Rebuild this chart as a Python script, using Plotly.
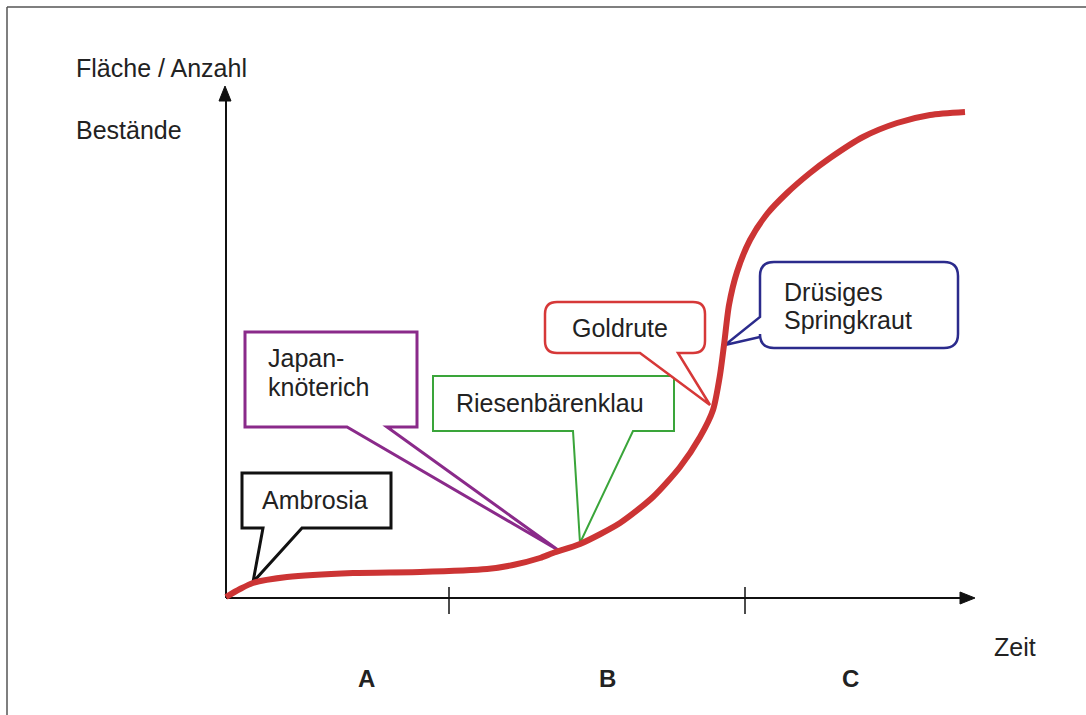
import plotly.graph_objects as go

# ---------------- data ----------------
# time axis position and population size (arbitrary units, origin at the axis crossing)
zeit = [0, 14, 27, 61, 127, 194, 261, 287, 314, 327, 354, 394, 427, 454,
        474, 487, 494, 498, 503, 511, 524, 541, 561, 584, 604, 637, 671, 704, 739]
bestand = [1, 9, 15, 21, 25, 26, 29, 33, 40, 45, 54, 75, 101, 131,
           161, 188, 223, 253, 293, 326, 358, 384, 405, 425, 440, 461, 475, 483, 486]

phase_labels = ["A", "B", "C"]
phase_centers = [140, 381, 624]
phase_bounds = [223, 519]

species = ["Ambrosia", ["Japan-", "knöterich"], "Riesenbärenklau", "Goldrute", ["Drüsiges", "Springkraut"]]

W, H = 1086, 715
OX, OY = 226, 598  # pixel position of the axis origin


def X(px):
    return px - OX


def Y(py):
    return OY - py


def P(px, py):
    return f"{X(px)},{Y(py)}"


FONT = "Liberation Sans, Arial, sans-serif"
TXT = "#222222"

shapes = []

# outer frame (only left and top visible)
shapes.append(dict(type="line", x0=X(7), y0=Y(7), x1=X(1095), y1=Y(7),
                   line=dict(color="#555555", width=1.5), layer="below"))
shapes.append(dict(type="line", x0=X(7), y0=Y(7), x1=X(7), y1=Y(725),
                   line=dict(color="#555555", width=1.5), layer="below"))

# axes
shapes.append(dict(type="line", x0=0, y0=0, x1=X(962), y1=0,
                   line=dict(color="#111111", width=2), layer="below"))
shapes.append(dict(type="path", path=f"M {P(960,592)} L {P(975,598)} L {P(960,604)} Z",
                   fillcolor="#111111", line=dict(color="#111111", width=1), layer="below"))
shapes.append(dict(type="line", x0=0, y0=0, x1=0, y1=Y(98),
                   line=dict(color="#111111", width=2), layer="below"))
shapes.append(dict(type="path", path=f"M {P(219,101)} L {P(225,86)} L {P(231,101)} Z",
                   fillcolor="#111111", line=dict(color="#111111", width=1), layer="below"))
for b in phase_bounds:
    shapes.append(dict(type="line", x0=b, y0=Y(587), x1=b, y1=Y(614),
                       line=dict(color="#111111", width=1.5), layer="below"))


def rect_callout(l, t, r, b, b1, b2, tip, color, width):
    path = (f"M {P(l,t)} L {P(r,t)} L {P(r,b)} L {P(b2,b)} L {P(*tip)} "
            f"L {P(b1,b)} L {P(l,b)} Z")
    return dict(type="path", path=path, fillcolor="white",
                line=dict(color=color, width=width), layer="below")


def round_callout_bottom(l, t, r, b, rad, b1, b2, tip, color, width):
    path = (f"M {P(l+rad,t)} L {P(r-rad,t)} Q {P(r,t)} {P(r,t+rad)} "
            f"L {P(r,b-rad)} Q {P(r,b)} {P(r-rad,b)} L {P(b2,b)} L {P(*tip)} "
            f"L {P(b1,b)} L {P(l+rad,b)} Q {P(l,b)} {P(l,b-rad)} "
            f"L {P(l,t+rad)} Q {P(l,t)} {P(l+rad,t)} Z")
    return dict(type="path", path=path, fillcolor="white",
                line=dict(color=color, width=width), layer="below")


def round_callout_left(l, t, r, b, rad, s1, s2, tip, color, width):
    path = (f"M {P(l+rad,t)} L {P(r-rad,t)} Q {P(r,t)} {P(r,t+rad)} "
            f"L {P(r,b-rad)} Q {P(r,b)} {P(r-rad,b)} L {P(l+rad,b)} "
            f"Q {P(l,b)} {P(l,b-rad)} L {P(l,s2)} L {P(*tip)} L {P(l,s1)} "
            f"L {P(l,t+rad)} Q {P(l,t)} {P(l+rad,t)} Z")
    return dict(type="path", path=path, fillcolor="white",
                line=dict(color=color, width=width), layer="below")


shapes.append(rect_callout(242, 473, 391, 528, 263, 302, (253, 582), "#111111", 3))
shapes.append(rect_callout(245, 332, 417, 427, 347, 387, (558, 550), "#8a2a8a", 3))
shapes.append(rect_callout(433, 376, 674, 431, 573, 633, (580, 543), "#3aa53a", 2))
shapes.append(round_callout_bottom(545, 302, 705, 353, 12, 640, 678, (710, 405), "#d63838", 2.5))
shapes.append(round_callout_left(760, 262, 958, 348, 14, 317, 337, (725, 345), "#2b2b8c", 2.5))

fig = go.Figure()
fig.add_trace(go.Scatter(x=zeit, y=bestand, mode="lines",
                         line=dict(color="#cc3434", width=6, shape="spline", smoothing=0.7),
                         hoverinfo="skip", showlegend=False))

ann = []


def text(x, y, s, xanchor="left", size=25):
    ann.append(dict(x=X(x), y=Y(y), text=s, showarrow=False,
                    xanchor=xanchor, yanchor="middle", align="left",
                    font=dict(family=FONT, size=size, color=TXT)))


text(74, 68, "Fläche / Anzahl")
text(74, 130, "Bestände")
text(992, 647, "Zeit")
for lab, c in zip(phase_labels, phase_centers):
    ann.append(dict(x=c, y=Y(678), text=f"<b>{lab}</b>", showarrow=False,
                    xanchor="center", yanchor="middle",
                    font=dict(family=FONT, size=24, color=TXT)))

text(315, 500, species[0], xanchor="center")
text(266, 358, species[1][0])
text(266, 387, species[1][1])
text(454, 403, species[2])
text(620, 328, species[3], xanchor="center")
text(782, 292, species[4][0])
text(782, 320, species[4][1])

fig.update_layout(
    width=W, height=H,
    margin=dict(l=0, r=0, t=0, b=0),
    paper_bgcolor="white", plot_bgcolor="white",
    xaxis=dict(range=[X(0), X(W)], visible=False, fixedrange=True),
    yaxis=dict(range=[Y(H), Y(0)], visible=False, fixedrange=True),
    shapes=shapes, annotations=ann, showlegend=False,
)

fig.write_html("out.html", config={"displayModeBar": False},
               post_script="document.body.style.margin='0px';document.body.style.overflow='hidden';")
